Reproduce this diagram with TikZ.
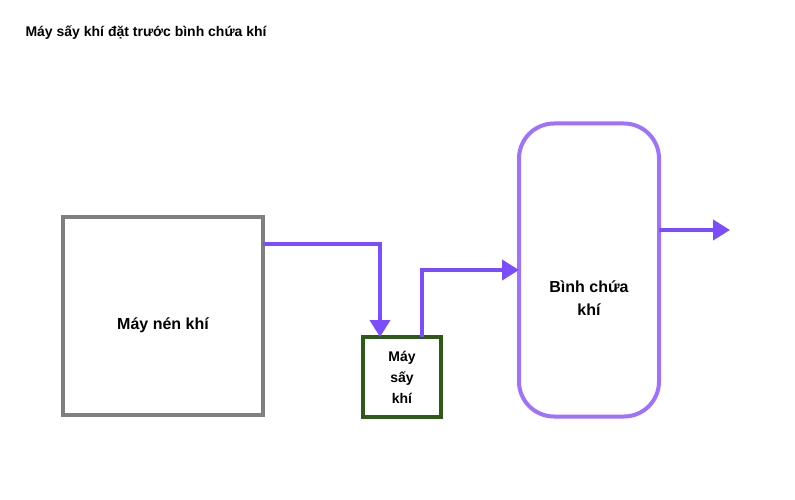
\documentclass[tikz,border=0pt]{standalone}
\usepackage{fontspec}
\setmainfont{Liberation Sans}
\usetikzlibrary{arrows.meta}
\definecolor{flowpurple}{HTML}{7C4DFF}
\definecolor{tankpurple}{HTML}{9E72FF}
\definecolor{dryergreen}{HTML}{2E5A17}
\definecolor{compgray}{HTML}{808080}
\begin{document}
\begin{tikzpicture}[x=1pt,y=-1pt,font=\bfseries,
    flow/.style={draw=flowpurple,line width=4pt,-{Triangle[length=17pt,width=20pt]}},
    unit/.style={draw,line width=4pt,align=center,inner sep=0pt,outer sep=0pt}]

	\useasboundingbox (0,0) rectangle (795,500);

	\node[anchor=west,font=\bfseries\fontsize{14}{16}\selectfont] (title) at (22,33) {Máy sấy khí đặt trước bình chứa khí};

	\node[unit,draw=compgray,minimum width=200pt,minimum height=198pt] (compressor) at (163,316) {};
	\node[font=\bfseries\fontsize{16}{19}\selectfont] (complabel) at (163,325) {Máy nén khí};
	\node[unit,draw=dryergreen,minimum width=78pt,minimum height=80pt,font=\bfseries\fontsize{14}{21}\selectfont]
		(dryer) at (402,377) {Máy\\sấy\\khí};
	\node[unit,draw=tankpurple,rounded corners=35pt,minimum width=140pt,minimum height=293pt] (tank) at (589,270) {};
	\node[align=center,font=\bfseries\fontsize{16}{23}\selectfont] (tanklabel) at (589,298) {Bình chứa\\khí};
	\coordinate (outlet) at (730,230);

	\draw[flow] (compressor.east |- 0,244) -| (dryer.north -| 380,0);
	\draw[flow] (dryer.north -| 422,0) |- (tank.west |- 0,270);
	\draw[flow] (tank.east |- 0,230) -- (outlet);

\end{tikzpicture}
\end{document}
